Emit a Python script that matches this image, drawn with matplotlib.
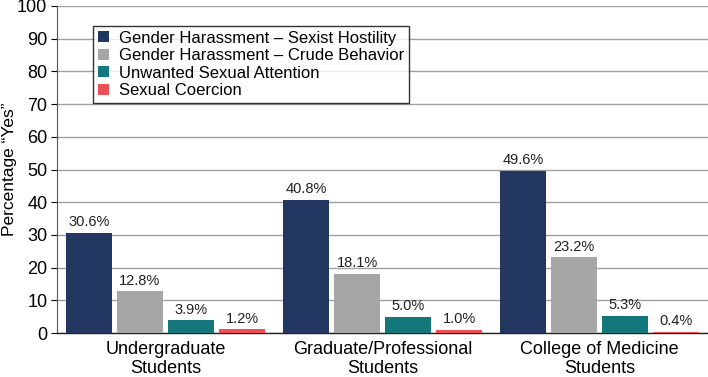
import numpy as np
import matplotlib.pyplot as plt

plt.rcParams['font.family'] = ['Liberation Sans', 'DejaVu Sans']

# data
groups = ['Undergraduate\nStudents', 'Graduate/Professional\nStudents', 'College of Medicine\nStudents']
series = ['Gender Harassment – Sexist Hostility', 'Gender Harassment – Crude Behavior',
          'Unwanted Sexual Attention', 'Sexual Coercion']
sexist_hostility = [30.6, 40.8, 49.6]
crude_behavior = [12.8, 18.1, 23.2]
unwanted_attention = [3.9, 5.0, 5.3]
sexual_coercion = [1.2, 1.0, 0.4]

colors = ['#22375f', '#a6a6a6', '#13777b', '#ee4e55']

fig = plt.figure(figsize=(7.08, 3.77), dpi=100)
ax = fig.add_axes([57 / 708, 44 / 377, 651 / 708, 327 / 377])

x = np.arange(len(groups)) + 0.5
width = 46 / 217
pitch = 51 / 217
values = [sexist_hostility, crude_behavior, unwanted_attention, sexual_coercion]
for i, (vals, name, c) in enumerate(zip(values, series, colors)):
    pos = x + (i - 1.5) * pitch
    bars = ax.bar(pos, vals, width, color=c, label=name, zorder=3)
    for b, v in zip(bars, vals):
        ax.annotate(f'{v:.1f}%', (b.get_x() + b.get_width() / 2, v),
                    xytext=(0, 2.5), textcoords='offset points',
                    ha='center', va='bottom', fontsize=10.5, color='#222222')

ax.set_xlim(0, 3)
ax.set_ylim(0, 100)
ax.set_yticks(np.arange(0, 101, 10))
ax.set_xticks(x)
ax.set_xticklabels(groups, fontsize=13, linespacing=1.1)
ax.tick_params(axis='x', length=0, pad=6)
ax.tick_params(axis='y', labelsize=13, length=4, width=0.8, pad=3)
ax.yaxis.grid(True, color='#a0a0a0', linewidth=1.0, zorder=0)
ax.set_axisbelow(True)
for s in ['top', 'right']:
    ax.spines[s].set_visible(False)
ax.spines['left'].set_color('#555555')
ax.spines['bottom'].set_color('#222222')
ax.spines['bottom'].set_linewidth(1.0)
ax.set_ylabel('Percentage \u201cYes\u201d', fontsize=12.5)
ax.yaxis.set_label_coords(-40 / 651, 0.5)

leg = ax.legend(loc='upper left', bbox_to_anchor=(0.055, 0.94), fontsize=12,
                frameon=True, fancybox=False, edgecolor='black',
                handlelength=0.65, handleheight=0.65, handletextpad=0.6,
                labelspacing=0.15, borderpad=0.3, borderaxespad=0)
leg.get_frame().set_linewidth(1.0)
leg.set_zorder(5)

fig.savefig('out.png', dpi=100)
